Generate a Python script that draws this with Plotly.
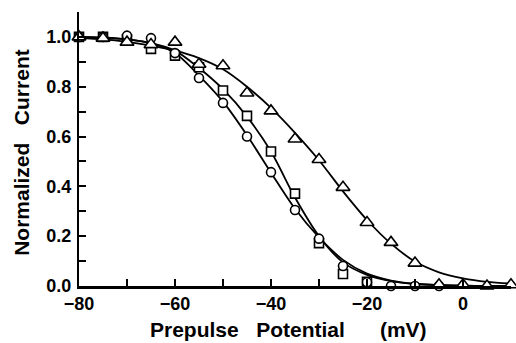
import plotly.graph_objects as go

# Measured points (prepulse potential, mV)
v_circle = [-80, -75, -70, -65, -60, -55, -50, -45, -40, -35, -30, -25, -20, -15, -10, -5]
i_circle = [1.0, 1.0, 1.005, 0.995, 0.935, 0.835, 0.735, 0.60, 0.457, 0.305, 0.19, 0.08, 0.015, 0.0, 0.0, 0.0]

v_square = [-80, -75, -70, -65, -60, -55, -50, -45, -40, -35, -30, -25, -20]
i_square = [1.0, 1.0, 0.99, 0.952, 0.925, 0.878, 0.785, 0.683, 0.54, 0.371, 0.172, 0.048, 0.017]

v_tri = [-80, -75, -70, -65, -60, -55, -50, -45, -40, -35, -30, -25, -20, -15, -10, -5, 0, 5, 10]
i_tri = [1.0, 0.995, 0.979, 0.969, 0.979, 0.89, 0.884, 0.775, 0.703, 0.59, 0.508, 0.396, 0.255, 0.175, 0.092, 0.005, 0.005, 0.0, 0.005]

# Fitted curves
v_fit = [-80, -75, -70, -65, -60, -55, -50, -45, -40, -35, -30, -25, -20, -15, -10, -5, 0, 5, 10]
fit_circle = [1.0, 0.998, 0.99, 0.975, 0.935, 0.845, 0.74, 0.605, 0.455, 0.31, 0.195, 0.105, 0.05, 0.022, 0.009, 0.004, 0.001, 0.0, 0.0]
fit_square = [1.0, 0.995, 0.99, 0.975, 0.945, 0.875, 0.79, 0.68, 0.54, 0.355, 0.2, 0.095, 0.045, 0.02, 0.008, 0.003, 0.001, 0.0, 0.0]
fit_tri = [0.995, 0.99, 0.98, 0.965, 0.945, 0.915, 0.87, 0.80, 0.715, 0.615, 0.505, 0.38, 0.265, 0.17, 0.098, 0.055, 0.031, 0.017, 0.01]

y_ticks = [0.0, 0.1, 0.2, 0.3, 0.4, 0.5, 0.6, 0.7, 0.8, 0.9, 1.0, 1.1]
y_labels = ["0.0", "", "0.2", "", "0.4", "", "0.6", "", "0.8", "", "1.0", ""]
x_ticks = [-80, -70, -60, -50, -40, -30, -20, -10, 0, 10]
x_labels = ["\u221280", "", "\u221260", "", "\u221240", "", "\u221220", "", "0", ""]

FONT = "Liberation Sans, Arial, Helvetica, sans-serif"
fig = go.Figure()

for fit in (fit_circle, fit_square, fit_tri):
    fig.add_trace(go.Scatter(x=v_fit, y=fit, mode="lines", line=dict(color="black", width=1.8, shape="spline", smoothing=0.8),
                             showlegend=False, hoverinfo="skip", cliponaxis=False))

for xs, ys, sym, sz in ((v_square, i_square, "square", 9), (v_circle, i_circle, "circle", 9), (v_tri, i_tri, "triangle-up", 12)):
    fig.add_trace(go.Scatter(x=xs, y=ys, mode="markers",
                             marker=dict(symbol=sym, size=sz, color="white", line=dict(color="black", width=1.6)),
                             showlegend=False, cliponaxis=False))

fig.update_layout(
    width=516, height=343,
    margin=dict(l=79, r=5, t=12, b=57),
    paper_bgcolor="white", plot_bgcolor="white",
    font=dict(family=FONT, color="black"),
    xaxis=dict(range=[-80, 10], tickvals=x_ticks, ticktext=x_labels, ticks="inside", ticklen=7, tickwidth=1.5,
               tickcolor="black", showline=True, linecolor="black", linewidth=2.5, showgrid=False, zeroline=False,
               tickfont=dict(size=18, family=FONT, weight="bold")),
    yaxis=dict(range=[0, 1.1], tickvals=y_ticks, ticktext=y_labels, ticks="inside", ticklen=7, tickwidth=1.5,
               tickcolor="black", showline=True, linecolor="black", linewidth=2, showgrid=False, zeroline=False,
               tickfont=dict(size=18, family=FONT, weight="bold"), ticklabelstandoff=2),
    annotations=[
        dict(text="Prepulse\u00a0\u00a0\u00a0Potential\u00a0\u00a0\u00a0\u00a0\u00a0\u00a0(mV)", xref="paper", yref="paper",
             x=0.486, y=-0.157, xanchor="center", yanchor="middle", showarrow=False,
             font=dict(size=21, family=FONT, weight="bold")),
        dict(text="Normalized\u00a0\u00a0\u00a0Current", xref="paper", yref="paper", textangle=-90,
             x=-0.135, y=0.4885, xanchor="center", yanchor="middle", showarrow=False,
             font=dict(size=21, family=FONT, weight="bold")),
    ],
)

fig.write_html("out.html")
